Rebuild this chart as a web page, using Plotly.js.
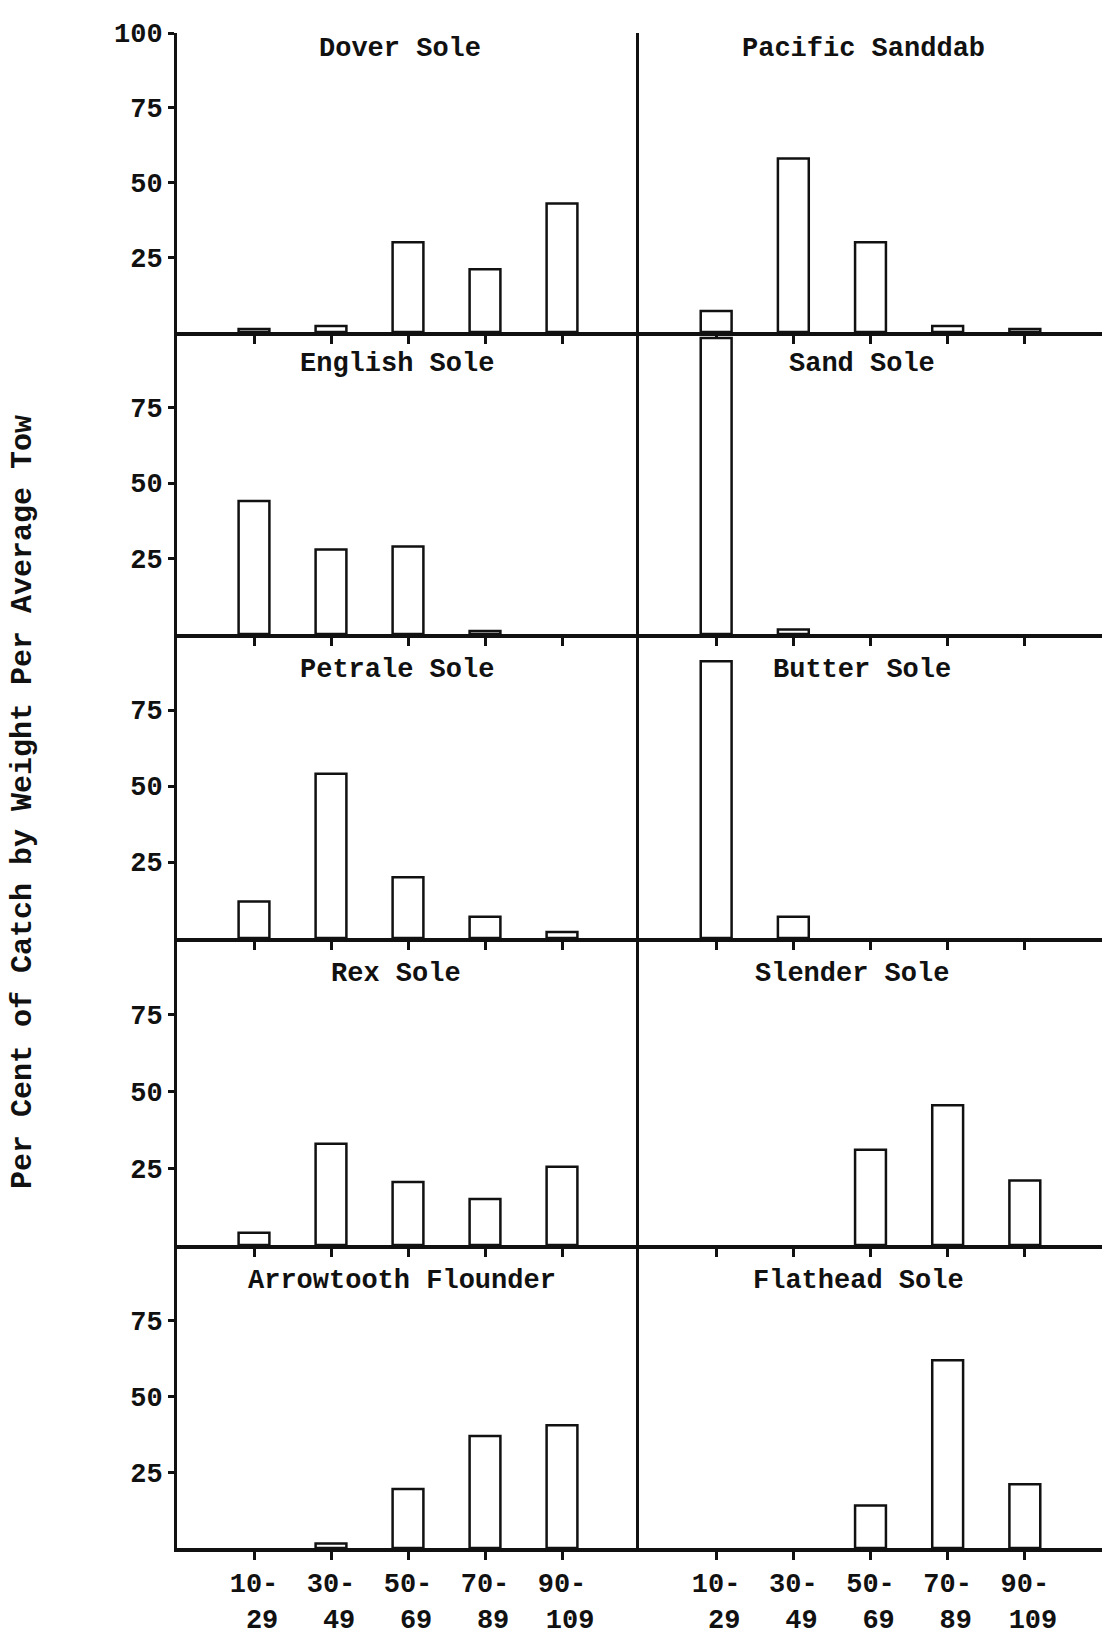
<!DOCTYPE html>
<html>
<head>
<meta charset="utf-8">
<script src="https://cdn.plot.ly/plotly-3.0.1.min.js"></script>
<style>
  html, body { margin: 0; padding: 0; background: #fff; }
  #chart { width: 1112px; height: 1638px; }
</style>
</head>
<body>
<div id="chart"></div>
<script>
// ---- Data ----
const categories = ['10-29', '30-49', '50-69', '70-89', '90-109'];
const tickLabels = ['10-<br>\u00a029', '30-<br>\u00a049', '50-<br>\u00a069', '70-<br>\u00a089', '90-<br>\u00a0109'];

const speciesLeft = ['Dover Sole', 'English Sole', 'Petrale Sole', 'Rex Sole', 'Arrowtooth Flounder'];
const speciesRight = ['Pacific Sanddab', 'Sand Sole', 'Butter Sole', 'Slender Sole', 'Flathead Sole'];

const doverSole = [1, 2, 30, 21, 43];
const englishSole = [44, 28, 29, 1, 0];
const petraleSole = [12, 54, 20, 7, 2];
const rexSole = [4, 33, 20.5, 15, 25.5];
const arrowtoothFlounder = [0, 1.5, 19.5, 37, 40.5];

const pacificSanddab = [7, 58, 30, 2, 1];
const sandSole = [98, 1.5, 0, 0, 0];
const butterSole = [91, 7, 0, 0, 0];
const slenderSole = [0, 0, 31, 45.5, 21];
const flatheadSole = [0, 0, 14, 62, 21];

const leftValues = [doverSole, englishSole, petraleSole, rexSole, arrowtoothFlounder];
const rightValues = [pacificSanddab, sandSole, butterSole, slenderSole, flatheadSole];

const yTickTop = [25, 50, 75, 100];
const yTickOther = [25, 50, 75];
const yAxisTitle = 'Per Cent of Catch by Weight Per Average Tow';

// ---- Layout geometry (pixels) ----
const W = 1112, H = 1638;
const mL = 177, mR = 10, mT = 33, mB = 90;
const plotH = H - mT - mB;   // 1515
const plotW = W - mL - mR;   // 925
const rowTops = [33, 332, 634, 938, 1245];
const rowBottoms = [332, 634, 938, 1245, 1548];
const colSplit = (639 - mL) / plotW;
const titleX = [[0.483, 0.476, 0.476, 0.474, 0.487], [0.484, 0.482, 0.482, 0.46, 0.475]];
const titleY = [0.945, 0.895, 0.883, 0.884, 0.882];

const FONT = 'Liberation Mono, Courier New, monospace';
const fontBold = (size) => ({ family: FONT, size: size, color: '#111', weight: 'bold' });

const traces = [];
const layout = {
  width: W, height: H,
  margin: { l: mL, r: mR, t: mT, b: mB, pad: 0 },
  paper_bgcolor: '#fff', plot_bgcolor: 'rgba(0,0,0,0)',
  showlegend: false,
  annotations: []
};

function addPanel(idx, col, row, name, values) {
  const sfx = idx === 1 ? '' : String(idx);
  traces.push({
    type: 'bar',
    x: categories,
    y: values,
    xaxis: 'x' + sfx,
    yaxis: 'y' + sfx,
    width: 0.4,
    marker: {
      color: '#fff',
      line: { color: '#111', width: values.map(v => (v > 0 ? 2.5 : 0)) }
    },
    hoverinfo: 'x+y'
  });
  const yDom = [(1548 - rowBottoms[row]) / plotH, (1548 - rowTops[row]) / plotH];
  const xDom = col === 0 ? [0, colSplit] : [colSplit, 1];
  layout['xaxis' + sfx] = {
    domain: xDom,
    anchor: 'y' + sfx,
    type: 'category',
    categoryorder: 'array',
    categoryarray: categories,
    range: [-1, 5],
    showline: true, linewidth: 4, linecolor: '#111',
    ticks: 'outside', ticklen: 8, tickwidth: 3, tickcolor: '#111',
    tickvals: categories,
    ticktext: tickLabels,
    showticklabels: row === 4,
    tickfont: fontBold(27),
    showgrid: false, zeroline: false, fixedrange: true
  };
  layout['yaxis' + sfx] = {
    domain: yDom,
    anchor: 'x' + sfx,
    range: [0, 100],
    showline: true, linewidth: 3, linecolor: '#111',
    ticks: col === 0 ? 'outside' : '',
    ticklen: 6, tickwidth: 3, tickcolor: '#111',
    tickmode: 'array',
    tickvals: row === 0 ? yTickTop : yTickOther,
    showticklabels: col === 0,
    tickfont: fontBold(27),
    showgrid: false, zeroline: false, fixedrange: true
  };
  layout.annotations.push({
    text: name,
    xref: 'x' + sfx + ' domain', yref: 'y' + sfx + ' domain',
    x: titleX[col][row], y: titleY[row],
    xanchor: 'center', yanchor: 'middle',
    showarrow: false,
    font: fontBold(27)
  });
}

for (let r = 0; r < 5; r++) {
  addPanel(r + 1, 0, r, speciesLeft[r], leftValues[r]);
}
for (let r = 0; r < 5; r++) {
  addPanel(r + 6, 1, r, speciesRight[r], rightValues[r]);
}

layout.annotations.push({
  text: yAxisTitle,
  xref: 'paper', yref: 'paper',
  x: (23 - mL) / plotW, y: (1548 - 802) / plotH,
  xanchor: 'center', yanchor: 'middle',
  textangle: -90,
  showarrow: false,
  font: { family: FONT, size: 30, color: '#111', weight: 'bold' }
});

Plotly.newPlot('chart', traces, layout, { displayModeBar: false, staticPlot: true });
</script>
</body>
</html>
